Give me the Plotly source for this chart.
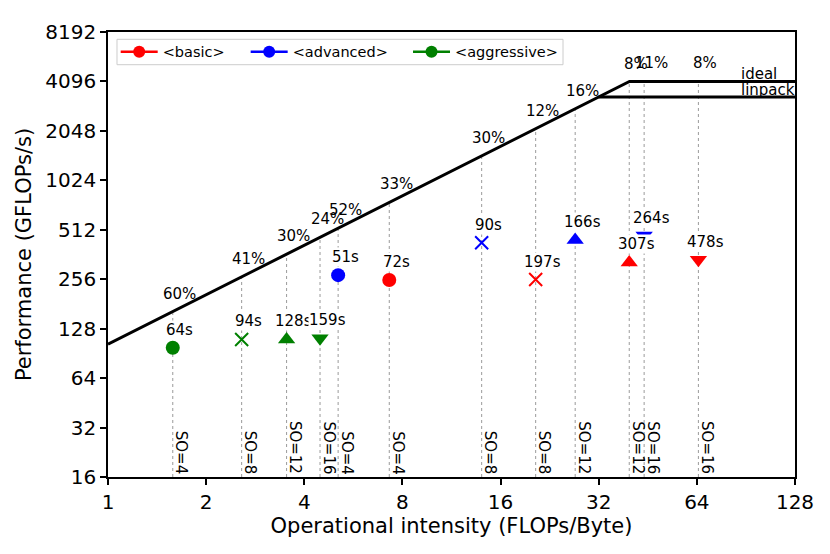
import numpy as np
import plotly.graph_objects as go

# roofline model: memory bandwidth (GB/s) and compute ceilings (GFLOPs/s)
BANDWIDTH = 103
PEAK_IDEAL = 4096
PEAK_LINPACK = 3290

SERIES = ["&lt;basic&gt;", "&lt;advanced&gt;", "&lt;aggressive&gt;"]
COLORS = ["#ff0000", "#0000ff", "#008000"]
SYMBOLS = ["circle", "x-thin", "triangle-up", "triangle-down"]
SO_VALUES = [4, 8, 12, 16]

# operational intensity (FLOPs/Byte), performance (GFLOPs/s), labels
basic_oi = [7.29, 20.5, 39.7, 64.7]
basic_perf = [253, 255, 324, 336]
basic_time = ["72s", "197s", "307s", "478s"]
basic_pct = ["33%", "12%", "8%", "8%"]

advanced_oi = [5.08, 14.0, 27.1, 44.1]
advanced_perf = [271, 427, 444, 472]
advanced_time = ["51s", "90s", "166s", "264s"]
advanced_pct = ["52%", "30%", "16%", "11%"]

aggressive_oi = [1.58, 2.57, 3.53, 4.47]
aggressive_perf = [98, 110, 110, 112]
aggressive_time = ["64s", "94s", "128s", "159s"]
aggressive_pct = ["60%", "41%", "30%", "24%"]

X_TICKS = [1, 2, 4, 8, 16, 32, 64, 128]
Y_TICKS = [16, 32, 64, 128, 256, 512, 1024, 2048, 4096, 8192]

FONT = "DejaVu Sans"


def roof(oi):
    return min(BANDWIDTH * oi, PEAK_IDEAL)


all_oi = [basic_oi, advanced_oi, aggressive_oi]
all_perf = [basic_perf, advanced_perf, aggressive_perf]
all_time = [basic_time, advanced_time, aggressive_time]
all_pct = [basic_pct, advanced_pct, aggressive_pct]

fig = go.Figure()

# dotted guides from the x axis up to the roofline
gx, gy = [], []
for ois in all_oi:
    for oi in ois:
        gx += [oi, oi, None]
        gy += [Y_TICKS[0], roof(oi), None]
fig.add_trace(go.Scatter(x=gx, y=gy, mode="lines", hoverinfo="skip", showlegend=False,
                         line=dict(color="#808080", width=0.8, dash="dot")))

# rooflines
ridge = PEAK_IDEAL / BANDWIDTH
fig.add_trace(go.Scatter(x=[X_TICKS[0], ridge, X_TICKS[-1]],
                         y=[BANDWIDTH * X_TICKS[0], PEAK_IDEAL, PEAK_IDEAL],
                         mode="lines", line=dict(color="black", width=3), showlegend=False))
fig.add_trace(go.Scatter(x=[PEAK_LINPACK / BANDWIDTH, X_TICKS[-1]],
                         y=[PEAK_LINPACK, PEAK_LINPACK],
                         mode="lines", line=dict(color="black", width=3), showlegend=False))

legend_ids = ["legend", "legend2", "legend3"]
legend_x = [0.0112, 0.2004, 0.4367]

annotations = []
for name, color, ois, perfs, times, pcts, leg in zip(SERIES, COLORS, all_oi, all_perf,
                                                      all_time, all_pct, legend_ids):
    fig.add_trace(go.Scatter(
        x=ois, y=perfs, mode="markers", showlegend=False,
        marker=dict(symbol=SYMBOLS, size=[14, 13, 15, 15], color=color, opacity=1,
                    line=dict(color=color, width=[0, 2, 0, 0]))))
    # legend entry only
    fig.add_trace(go.Scatter(
        x=[None], y=[None], mode="lines+markers", name=name, legend=leg,
        line=dict(color=color, width=2.5), marker=dict(symbol="circle", size=12, color=color)))

    for oi, perf, t, pct, so in zip(ois, perfs, times, pcts, SO_VALUES):
        annotations.append(dict(x=np.log10(oi), y=np.log10(roof(oi)), text=pct,
                                showarrow=False, xshift=7, yshift=18,
                                font=dict(size=15, color="black", family=FONT)))
        annotations.append(dict(x=np.log10(oi), y=np.log10(perf), text=t,
                                showarrow=False, xshift=7, yshift=18, bgcolor="white",
                                borderpad=0, font=dict(size=15, color="black", family=FONT)))
        annotations.append(dict(x=np.log10(oi), y=np.log10(Y_TICKS[0]), text=f"SO={so}",
                                showarrow=False, textangle=90, xanchor="left", yanchor="bottom",
                                xshift=-2, yshift=1,
                                font=dict(size=15, color="black", family=FONT)))

annotations.append(dict(x=np.log10(86), y=np.log10(PEAK_IDEAL), text="ideal", showarrow=False,
                        xanchor="left", yanchor="bottom", yshift=-4,
                        font=dict(size=15, color="black", family=FONT)))
annotations.append(dict(x=np.log10(86), y=np.log10(PEAK_LINPACK), text="linpack", showarrow=False,
                        xanchor="left", yanchor="bottom", yshift=-4,
                        font=dict(size=15, color="black", family=FONT)))

axis_common = dict(type="log", showline=True, mirror=True, linecolor="black", linewidth=1.5,
                   ticks="outside", ticklen=6, tickwidth=1.5, tickcolor="black",
                   showgrid=False, zeroline=False,
                   tickfont=dict(size=20, color="black", family=FONT))

legend_common = dict(orientation="h", xanchor="left", yanchor="middle", y=0.9557,
                     bgcolor="rgba(0,0,0,0)", borderwidth=0, itemwidth=37,
                     font=dict(size=14.5, color="black", family=FONT))

# page body keeps an 8px margin, so the figure is sized to fit inside it
fig.update_layout(
    width=822, height=546,
    margin=dict(l=100, r=35, t=13, b=77),
    paper_bgcolor="white", plot_bgcolor="white",
    font=dict(family=FONT, color="black"),
    xaxis=dict(axis_common, range=[np.log10(X_TICKS[0]), np.log10(X_TICKS[-1])],
               tickvals=X_TICKS, ticktext=[str(v) for v in X_TICKS],
               title=dict(text="Operational intensity (FLOPs/Byte)", standoff=6,
                          font=dict(size=21, color="black", family=FONT))),
    yaxis=dict(axis_common, range=[np.log10(Y_TICKS[0]), np.log10(Y_TICKS[-1])],
               tickvals=Y_TICKS, ticktext=[str(v) for v in Y_TICKS],
               title=dict(text="Performance (GFLOPs/s)", standoff=8,
                          font=dict(size=21, color="black", family=FONT))),
    legend=dict(legend_common, x=legend_x[0]),
    legend2=dict(legend_common, x=legend_x[1]),
    legend3=dict(legend_common, x=legend_x[2]),
    annotations=annotations,
    shapes=[dict(type="rect", xref="paper", yref="paper", x0=0.0131, x1=0.6623,
                 y0=0.9265, y1=0.9836, line=dict(color="#cccccc", width=1),
                 fillcolor="white", layer="below")],
)

fig.write_html("out.html")
